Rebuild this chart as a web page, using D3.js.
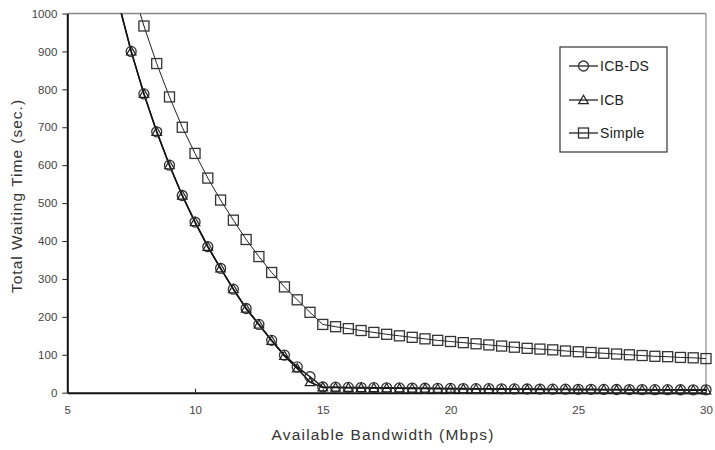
<!DOCTYPE html>
<html><head><meta charset="utf-8">
<script src="https://cdn.jsdelivr.net/npm/d3@7"></script>
<style>
body{margin:0;background:#fff;}
svg{display:block;font-family:"Liberation Sans",Arial,sans-serif;}
</style></head>
<body><svg id="c" width="715" height="450"></svg>
<script>
const bwICB = [7,7.5,8,8.5,9,9.5,10,10.5,11,11.5,12,12.5,13,13.5,14,14.5,15,15.5,16,16.5,17,17.5,18,18.5,19,19.5,20,20.5,21,21.5,22,22.5,23,23.5,24,24.5,25,25.5,26,26.5,27,27.5,28,28.5,29,29.5,30];
const icbDS = [1030,900,788,688,600,520,450,385,328,273,222,180,138,99,68,42,15,14.5,14,13.6,13.2,12.9,12.5,12.2,11.8,11.5,11.3,11,10.7,10.5,10.2,10,9.8,9.6,9.4,9.2,9,8.8,8.7,8.5,8.3,8.2,8,7.9,7.8,7.6,7.5];
const icb = [1030,900,788,688,600,520,450,385,328,273,222,180,137,97,64,28,14,13.5,13,12.6,12.2,11.9,11.5,11.2,10.8,10.5,10.3,10,9.7,9.5,9.2,9,8.8,8.6,8.4,8.2,8,7.8,7.7,7.5,7.3,7.2,7,6.9,6.8,6.6,6.5];
const bwSimple = [7.5,8,8.5,9,9.5,10,10.5,11,11.5,12,12.5,13,13.5,14,14.5,15,15.5,16,16.5,17,17.5,18,18.5,19,19.5,20,20.5,21,21.5,22,22.5,23,23.5,24,24.5,25,25.5,26,26.5,27,27.5,28,28.5,29,29.5,30];
const simple = [1080,967,868,780,700,631,566,508,455,404,359,317,279,245,212,180,174,169,164,159,154,150,146,142,138,135,132,129,126,123,120,117,115,113,110,108,106,104,102,100,98,96,95,93,92,90];
const xTicks = [5,10,15,20,25,30];
const yTicks = [0,100,200,300,400,500,600,700,800,900,1000];
const seriesNames = ["ICB-DS","ICB","Simple"];

const svg = d3.select("#c");
const L=67.3, R=706, T=13.5, B=392.7;
const x = d3.scaleLinear().domain([5,30]).range([L,R]);
const y = d3.scaleLinear().domain([0,1000]).range([B,T]);

svg.append("defs").append("clipPath").attr("id","clip")
  .append("rect").attr("x",L).attr("y",T).attr("width",R-L+6).attr("height",B-T+6);

// frame top/right
svg.append("line").attr("x1",L).attr("x2",R).attr("y1",T).attr("y2",T).attr("stroke","#888").attr("stroke-width",1.5);
svg.append("line").attr("x1",R).attr("x2",R).attr("y1",T).attr("y2",B).attr("stroke","#888").attr("stroke-width",1.2);

// axes
const yAxis = svg.append("g").attr("transform",`translate(${L},0)`)
  .call(d3.axisLeft(y).tickValues(yTicks).tickSize(5).tickSizeOuter(0).tickPadding(5).tickFormat(d3.format("d")));
const xAxis = svg.append("g").attr("transform",`translate(0,${B})`)
  .call(d3.axisBottom(x).tickValues(xTicks).tickSize(-4).tickSizeOuter(0).tickPadding(13).tickFormat(d3.format("d")));
[yAxis,xAxis].forEach(g=>{
  g.select(".domain").attr("stroke","#111").attr("stroke-width",2);
  g.selectAll(".tick line").attr("stroke","#222");
  g.selectAll("text").attr("font-size",11.5).attr("fill","#444").attr("font-family","\"Liberation Sans\",Arial,sans-serif");
});

const plot = svg.append("g").attr("clip-path","url(#clip)");
const line = d3.line().x(d=>x(d[0])).y(d=>y(d[1]));
const dDS = bwICB.map((b,i)=>[b,icbDS[i]]);
const dICB = bwICB.map((b,i)=>[b,icb[i]]);
const dS = bwSimple.map((b,i)=>[b,simple[i]]);

plot.append("path").datum(dS).attr("d",line).attr("fill","none").attr("stroke","#222").attr("stroke-width",1);
plot.append("path").datum(dICB).attr("d",line).attr("fill","none").attr("stroke","#111").attr("stroke-width",1.5);
plot.append("path").datum(dDS).attr("d",line).attr("fill","none").attr("stroke","#111").attr("stroke-width",1.5);

const tri = d3.symbol().type(d3.symbolTriangle).size(40);
function drawCircle(g,cx,cy){g.append("circle").attr("cx",cx).attr("cy",cy).attr("r",5).attr("fill","none").attr("stroke","#333").attr("stroke-width",1.3);}
function drawTri(g,cx,cy){g.append("path").attr("d",tri()).attr("transform",`translate(${cx},${cy+0.8})`).attr("fill","none").attr("stroke","#222").attr("stroke-width",1.2);}
function drawSq(g,cx,cy){g.append("rect").attr("x",cx-5).attr("y",cy-5).attr("width",10).attr("height",10).attr("fill","none").attr("stroke","#333").attr("stroke-width",1.3);}

dS.forEach(d=>drawSq(plot,x(d[0]),y(d[1])));
dDS.forEach(d=>drawCircle(plot,x(d[0]),y(d[1])));
dICB.forEach(d=>drawTri(plot,x(d[0]),y(d[1])));

// legend
const lg = svg.append("g");
lg.append("rect").attr("x",560).attr("y",47).attr("width",107).attr("height",105).attr("fill","#fff").attr("stroke","#333").attr("stroke-width",1.2);
const ly = [66,100,133];
const drawers=[drawCircle,drawTri,drawSq];
seriesNames.forEach((n,i)=>{
  lg.append("line").attr("x1",569).attr("x2",598).attr("y1",ly[i]).attr("y2",ly[i]).attr("stroke","#111").attr("stroke-width",1.2);
  drawers[i](lg,583.5,ly[i]);
  lg.append("text").attr("x",600).attr("y",ly[i]+5).attr("font-size",14).attr("letter-spacing",0.3).attr("fill","#222").text(n);
});

// titles
svg.append("text").attr("x",383).attr("y",440).attr("text-anchor","middle").attr("font-size",15.5).attr("letter-spacing",1.2).attr("fill","#333").text("Available Bandwidth (Mbps)");
svg.append("text").attr("transform","translate(22,196) rotate(-90)").attr("text-anchor","middle").attr("font-size",15.5).attr("letter-spacing",1).attr("fill","#333").text("Total Waiting Time (sec.)");
</script></body></html>
